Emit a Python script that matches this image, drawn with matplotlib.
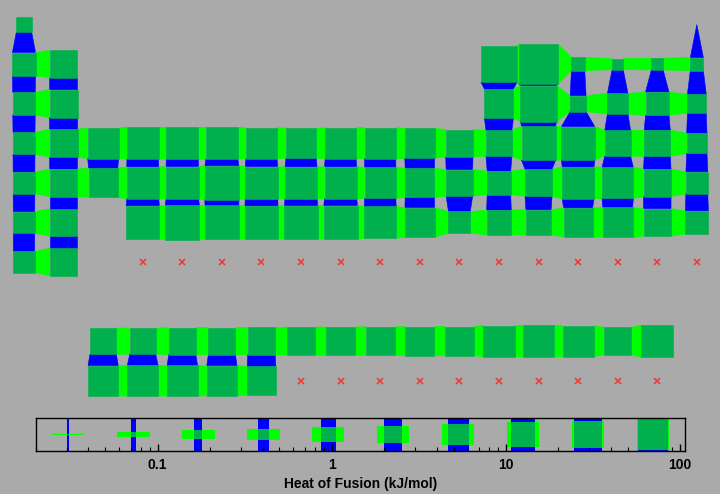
import numpy as np
import matplotlib
matplotlib.use("Agg")
import matplotlib.pyplot as plt
from matplotlib.patches import Polygon, Rectangle
import matplotlib.transforms as mtransforms

# ---------------- data ----------------
element_symbols = [
    "H", "He",
    "Li", "Be", "B", "C", "N", "O", "F", "Ne",
    "Na", "Mg", "Al", "Si", "P", "S", "Cl", "Ar",
    "K", "Ca", "Sc", "Ti", "V", "Cr", "Mn", "Fe", "Co", "Ni", "Cu", "Zn", "Ga", "Ge", "As", "Se", "Br", "Kr",
    "Rb", "Sr", "Y", "Zr", "Nb", "Mo", "Tc", "Ru", "Rh", "Pd", "Ag", "Cd", "In", "Sn", "Sb", "Te", "I", "Xe",
    "Cs", "Ba", "Hf", "Ta", "W", "Re", "Os", "Ir", "Pt", "Au", "Hg", "Tl", "Pb", "Bi", "Po", "At", "Rn",
    "Fr", "Ra", "Rf", "Db", "Sg", "Bh", "Hs", "Mt", "Ds", "Rg", "Cn", "Nh", "Fl", "Mc", "Lv", "Ts", "Og",
    "La", "Ce", "Pr", "Nd", "Pm", "Sm", "Eu", "Gd", "Tb", "Dy", "Ho", "Er", "Tm", "Yb", "Lu",
    "Ac", "Th", "Pa", "U", "Np", "Pu", "Am", "Cm", "Bk", "Cf", "Es", "Fm", "Md", "No", "Lr",
]

element_column = [
    1, 18,
    1, 2, 13, 14, 15, 16, 17, 18,
    1, 2, 13, 14, 15, 16, 17, 18,
    1, 2, 3, 4, 5, 6, 7, 8, 9, 10, 11, 12, 13, 14, 15, 16, 17, 18,
    1, 2, 3, 4, 5, 6, 7, 8, 9, 10, 11, 12, 13, 14, 15, 16, 17, 18,
    1, 2, 4, 5, 6, 7, 8, 9, 10, 11, 12, 13, 14, 15, 16, 17, 18,
    1, 2, 4, 5, 6, 7, 8, 9, 10, 11, 12, 13, 14, 15, 16, 17, 18,
    3, 4, 5, 6, 7, 8, 9, 10, 11, 12, 13, 14, 15, 16, 17,
    3, 4, 5, 6, 7, 8, 9, 10, 11, 12, 13, 14, 15, 16, 17,
]

element_row = (
    [1] * 2 + [2] * 8 + [3] * 8 + [4] * 18 + [5] * 18 + [6] * 17 + [7] * 17
    + [9] * 15 + [10] * 15
)

# heat of fusion, kJ/mol (None = no data)
heat_of_fusion = [
    0.56, 0.02,
    3.0, 7.95, 50.2, 105.0, 0.36, 0.222, 0.26, 0.34,
    2.6, 8.7, 10.7, 50.2, 0.64, 1.73, 3.2, 1.18,
    2.33, 8.54, 16.0, 18.7, 21.0, 20.5, 17.0, 13.8, 16.2, 17.2, 13.1, 7.35, 5.59, 31.8, 27.7, 5.4, 5.8, 1.64,
    2.19, 8.0, 11.4, 21.0, 23.0, 32.0, 23.0, 21.0, 21.5, 17.6, 11.3, 6.3, 3.26, 7.0, 19.7, 17.5, 7.76, 2.3,
    2.09, 8.0, 27.0, 34.0, 31.0, 26.0, 28.0, 30.0, 20.0, 12.5, 2.29, 4.2, 4.77, 10.9, 13.0, 7.8, 3.0,
    2.0, 8.0, None, None, None, None, None, None, None, None, None, None, None, None, None, None, None,
    6.2, 5.5, 6.9, 7.1, 7.7, 8.6, 9.2, 10.0, 10.8, 11.1, 17.0, 19.9, 16.8, 7.7, 22.0,
    14.0, 16.1, 15.0, 14.0, 10.0, None, None, None, None, None, None, None, None, None, None,
]

legend_values = [0.0305, 0.0726, 0.171, 0.404, 0.953, 2.25, 5.30, 12.5, 29.5, 69.7]
legend_ticks = [0.1, 1, 10, 100]
legend_ticklabels = ["0.1", "1", "10", "100"]
x_label = "Heat of Fusion (kJ/mol)"

# ---------------- style ----------------
BG = "#aaaaaa"
GREEN = "#00b04c"
LIME = "#00ff00"
BLUE = "#0000ff"
SIZE_LO, SIZE_HI = 0.02, 106.5

plt.rcParams["font.family"] = ["Liberation Sans", "DejaVu Sans"]

fig = plt.figure(figsize=(7.2, 4.94), dpi=100, facecolor=BG)
ax = fig.add_axes([0, 0, 1, 1])
ax.set_xlim(0.3936, 18.585)
ax.set_ylim(12.862, 0.381)
ax.axis("off")

lo, hi = np.log10(SIZE_LO), np.log10(SIZE_HI)


def frac(v):
    return float(np.clip((np.log10(v) - lo) / (hi - lo), 0.0, 1.0))


present = {}
missing_c, missing_r = [], []
for c, r, v in zip(element_column, element_row, heat_of_fusion):
    if v is None:
        missing_c.append(c)
        missing_r.append(r)
    else:
        present[(c, r)] = frac(v)

# connectors
for (c, r), s in present.items():
    if (c + 1, r) in present:
        t = present[(c + 1, r)]
        ax.add_patch(Polygon([(c + s / 2, r - s / 2), (c + 1 - t / 2, r - t / 2),
                              (c + 1 - t / 2, r + t / 2), (c + s / 2, r + s / 2)],
                             closed=True, fc=LIME, ec=LIME, lw=0.4, zorder=1))
    if (c, r + 1) in present:
        t = present[(c, r + 1)]
        ax.add_patch(Polygon([(c - s / 2, r + s / 2), (c + s / 2, r + s / 2),
                              (c + t / 2, r + 1 - t / 2), (c - t / 2, r + 1 - t / 2)],
                             closed=True, fc=BLUE, ec=BLUE, lw=0.4, zorder=1))

# element squares
for (c, r), s in present.items():
    ax.add_patch(Rectangle((c - s / 2, r - s / 2), s, s, fc=GREEN, ec=GREEN, lw=0.4, zorder=2))

# missing data markers
ax.plot(missing_c, missing_r, "x", color=(1.0, 0.1, 0.1), alpha=0.75, ms=4, mew=1.2, zorder=3)

# ---------------- legend / scale ----------------
leg_h_in = 0.324
axl = fig.add_axes([36 / 720, (494 - 450.7) / 494, 649 / 720, leg_h_in * 100 / 494])
axl.set_facecolor("none")
axl.set_xscale("log")
axl.set_xlim(SIZE_LO, SIZE_HI)
axl.set_ylim(0, 1)
axl.set_yticks([])
for sp in axl.spines.values():
    sp.set_linewidth(1.0)
    sp.set_color("black")

for v in legend_values:
    s = frac(v) * leg_h_in
    trans = fig.dpi_scale_trans + mtransforms.ScaledTranslation(v, 0.5, axl.transData)
    axl.add_patch(Rectangle((-leg_h_in / 2, -s / 2), leg_h_in, s, fc=LIME, ec="none",
                            transform=trans, zorder=1))
    axl.add_patch(Rectangle((-s / 2, -leg_h_in / 2), s, leg_h_in, fc=BLUE, ec="none",
                            transform=trans, zorder=1))
    axl.add_patch(Rectangle((-s / 2, -s / 2), s, s, fc=GREEN, ec="none",
                            transform=trans, zorder=2))

axl.set_xticks(legend_ticks)
axl.set_xticklabels(legend_ticklabels, fontweight="bold", fontsize=10)
axl.tick_params(axis="x", which="major", direction="in", length=5.2, width=1.0, pad=5)
axl.tick_params(axis="x", which="minor", direction="in", length=2.9, width=0.8)
axl.set_xlabel(x_label, fontweight="bold", fontsize=10, labelpad=3.5)

fig.savefig("out.png", dpi=100, facecolor=BG)
